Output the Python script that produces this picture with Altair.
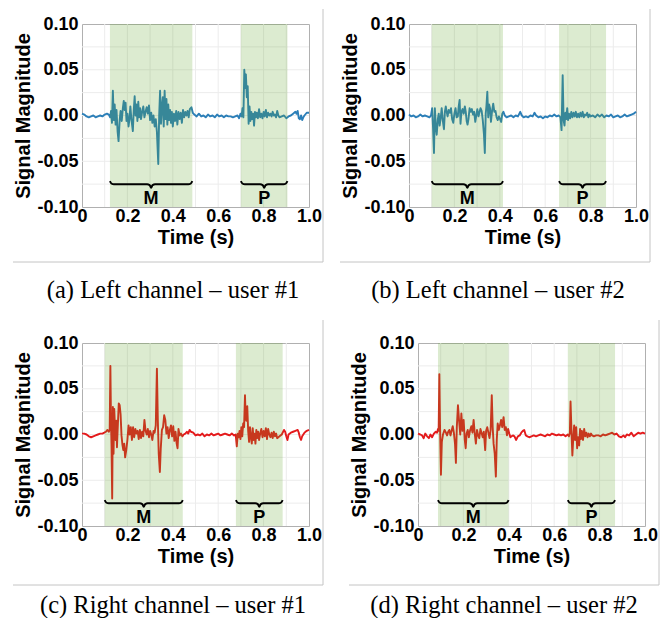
import altair as alt
import pandas as pd

# ---------------- data ----------------
t_a = [0.000,0.010,0.020,0.030,0.040,0.050,0.060,0.070,0.080,0.090,0.100,0.110,0.118,0.124,0.128,0.132,0.136,0.140,0.144,0.148,
       0.152,0.157,0.161,0.166,0.170,0.175,0.180,0.184,0.188,0.192,0.196,0.200,0.205,0.209,0.213,0.218,0.224,0.228,0.232,0.236,
       0.240,0.244,0.248,0.252,0.256,0.260,0.265,0.270,0.275,0.280,0.285,0.290,0.295,0.300,0.305,0.310,0.315,0.320,0.325,0.330,
       0.336,0.340,0.344,0.348,0.352,0.356,0.360,0.364,0.368,0.372,0.376,0.380,0.384,0.388,0.392,0.396,0.400,0.405,0.410,0.415,
       0.420,0.425,0.430,0.435,0.440,0.445,0.450,0.455,0.460,0.465,0.470,0.475,0.482,0.488,0.495,0.505,0.515,0.525,0.535,0.545,
       0.555,0.565,0.575,0.585,0.595,0.605,0.615,0.625,0.635,0.645,0.655,0.665,0.675,0.685,0.692,0.698,0.703,0.707,0.711,0.715,
       0.719,0.722,0.726,0.730,0.734,0.738,0.742,0.746,0.750,0.754,0.758,0.762,0.766,0.770,0.775,0.780,0.785,0.790,0.795,0.800,
       0.805,0.810,0.815,0.820,0.825,0.830,0.835,0.840,0.845,0.850,0.855,0.860,0.865,0.870,0.880,0.890,0.900,0.910,0.920,0.930,
       0.940,0.945,0.950,0.955,0.960,0.965,0.970,0.975,0.980,0.990,1.000]
v_a = [0.002,0.001,-0.001,-0.002,-0.001,0.000,-0.002,-0.001,0.000,-0.001,0.001,0.002,0.001,-0.002,0.005,-0.008,0.027,-0.005,0.012,-0.010,
       0.006,-0.018,-0.028,-0.005,0.005,-0.006,0.008,0.016,0.006,0.014,-0.006,0.002,-0.012,-0.004,0.010,-0.005,-0.017,0.006,0.021,0.000,
       0.012,-0.006,0.015,-0.002,0.008,-0.004,0.004,0.010,-0.002,0.004,0.009,0.002,0.011,-0.005,0.003,-0.008,0.000,-0.012,-0.004,-0.018,
       -0.053,0.000,0.027,-0.009,0.010,0.020,-0.012,0.027,-0.004,0.018,-0.010,0.012,-0.005,0.006,-0.008,0.004,-0.012,0.002,-0.006,0.005,
       -0.010,0.004,-0.004,0.003,-0.008,0.006,-0.002,0.004,0.000,0.005,-0.002,0.007,0.009,0.003,0.001,-0.001,0.002,-0.001,0.000,-0.002,
       0.001,-0.001,0.000,-0.002,0.001,-0.001,0.000,-0.002,0.000,-0.001,-0.001,-0.002,-0.001,0.000,-0.003,0.002,-0.001,0.008,-0.002,0.050,
       0.030,0.045,0.020,0.032,-0.009,0.010,-0.006,0.004,-0.004,0.002,-0.011,0.004,-0.002,0.003,-0.003,0.007,-0.002,0.002,-0.003,0.004,
       -0.001,0.006,-0.002,0.003,0.000,0.002,-0.001,0.004,0.000,0.001,-0.002,0.005,0.000,-0.002,-0.001,0.000,-0.003,-0.001,0.000,0.002,
       0.004,0.002,0.005,-0.003,-0.004,0.000,-0.005,-0.002,0.000,0.003,0.003]

t_b = [0.000,0.010,0.020,0.030,0.040,0.050,0.060,0.070,0.080,0.090,0.097,0.102,0.106,0.110,0.114,0.118,0.122,0.127,0.131,0.135,
       0.140,0.144,0.149,0.154,0.158,0.162,0.166,0.170,0.175,0.180,0.185,0.190,0.195,0.200,0.205,0.210,0.215,0.219,0.223,0.227,
       0.231,0.236,0.241,0.246,0.250,0.254,0.258,0.262,0.267,0.272,0.277,0.282,0.287,0.292,0.297,0.301,0.306,0.310,0.315,0.320,
       0.325,0.330,0.334,0.338,0.341,0.345,0.349,0.353,0.357,0.361,0.366,0.371,0.376,0.381,0.386,0.391,0.396,0.401,0.406,0.411,
       0.416,0.422,0.430,0.440,0.450,0.460,0.470,0.480,0.490,0.497,0.505,0.515,0.525,0.535,0.545,0.553,0.560,0.570,0.580,0.590,
       0.600,0.610,0.620,0.630,0.640,0.650,0.660,0.667,0.672,0.677,0.681,0.685,0.689,0.693,0.697,0.701,0.705,0.710,0.715,0.720,
       0.725,0.730,0.735,0.740,0.745,0.750,0.755,0.760,0.765,0.770,0.775,0.780,0.785,0.790,0.795,0.800,0.810,0.820,0.830,0.840,
       0.850,0.860,0.870,0.880,0.890,0.900,0.910,0.920,0.930,0.940,0.950,0.960,0.970,0.980,0.990,1.000]
v_b = [0.001,-0.001,0.000,-0.002,-0.001,0.001,-0.001,0.000,-0.001,-0.002,0.000,0.008,-0.014,-0.041,0.008,-0.012,-0.021,-0.004,0.002,-0.011,
       -0.002,0.008,-0.006,-0.015,0.004,0.010,0.004,-0.001,0.006,0.003,0.008,-0.004,-0.008,0.002,0.008,-0.002,-0.001,0.010,0.017,-0.009,
       0.004,0.007,0.002,0.010,0.004,-0.006,-0.010,-0.004,0.008,0.004,0.007,0.001,0.004,-0.007,0.001,0.007,-0.001,0.003,0.008,0.005,
       -0.005,-0.020,-0.041,0.002,0.010,0.026,-0.002,0.012,0.008,-0.007,0.005,0.013,0.004,0.005,-0.002,-0.005,-0.001,-0.004,-0.007,0.002,
       0.004,0.000,-0.002,-0.001,0.000,-0.002,0.000,-0.001,0.004,0.000,-0.002,-0.001,-0.002,0.000,-0.001,0.003,0.000,-0.002,-0.001,-0.003,
       -0.001,-0.002,0.000,-0.001,0.001,-0.001,0.000,-0.002,-0.016,0.044,-0.005,-0.011,0.003,-0.004,0.008,-0.005,0.002,-0.003,0.004,-0.002,
       0.003,-0.001,0.004,-0.002,0.002,-0.002,0.003,-0.001,0.004,-0.002,0.001,0.000,0.003,-0.002,0.001,-0.001,0.000,-0.002,0.001,-0.001,
       0.001,-0.002,0.000,-0.001,0.001,-0.002,-0.001,0.000,-0.002,-0.001,0.001,-0.001,0.000,0.001,0.002,0.004]

t_c = [0.000,0.010,0.020,0.030,0.040,0.050,0.060,0.070,0.080,0.090,0.098,0.105,0.112,0.118,0.122,0.125,0.128,0.130,0.133,0.136,
       0.139,0.142,0.145,0.148,0.151,0.154,0.157,0.162,0.166,0.170,0.174,0.178,0.182,0.186,0.190,0.195,0.200,0.205,0.210,0.215,
       0.220,0.225,0.230,0.235,0.240,0.245,0.250,0.255,0.260,0.265,0.270,0.275,0.280,0.285,0.290,0.295,0.300,0.305,0.310,0.315,
       0.320,0.325,0.330,0.334,0.338,0.343,0.347,0.352,0.357,0.362,0.367,0.372,0.377,0.382,0.387,0.392,0.397,0.402,0.407,0.412,
       0.417,0.421,0.425,0.430,0.436,0.442,0.448,0.455,0.462,0.468,0.474,0.480,0.490,0.500,0.510,0.520,0.530,0.540,0.550,0.560,
       0.570,0.580,0.590,0.600,0.610,0.620,0.630,0.640,0.650,0.660,0.670,0.677,0.682,0.686,0.690,0.694,0.698,0.702,0.706,0.710,
       0.714,0.718,0.721,0.724,0.728,0.732,0.736,0.740,0.744,0.748,0.752,0.756,0.760,0.764,0.768,0.772,0.776,0.780,0.785,0.790,
       0.795,0.800,0.805,0.810,0.815,0.820,0.825,0.830,0.835,0.840,0.845,0.850,0.855,0.860,0.870,0.880,0.890,0.895,0.900,0.905,
       0.910,0.920,0.930,0.940,0.950,0.955,0.960,0.965,0.970,0.980,0.990,1.000]
v_c = [0.001,0.001,0.000,-0.002,-0.003,-0.002,-0.001,0.000,0.001,0.001,0.002,0.003,0.005,0.003,0.005,0.075,0.010,-0.012,-0.070,0.030,
       -0.021,0.028,0.010,-0.006,0.015,-0.014,0.005,0.034,0.032,0.022,-0.001,-0.011,-0.017,-0.010,-0.025,-0.017,-0.006,0.010,0.000,0.008,
       -0.006,0.008,-0.003,0.006,0.001,0.004,-0.005,0.005,-0.004,0.003,-0.002,0.016,0.004,0.000,0.006,-0.003,0.004,0.000,-0.006,0.004,
       0.002,0.010,0.072,0.016,-0.021,-0.041,-0.015,0.005,0.008,0.021,0.016,0.001,0.008,-0.004,0.005,0.010,-0.002,0.009,-0.007,0.003,
       -0.010,-0.015,0.006,-0.001,0.001,-0.002,0.000,0.001,0.003,0.001,0.005,0.003,0.002,-0.001,0.000,-0.001,0.001,-0.002,0.000,-0.001,
       0.001,-0.001,0.000,0.001,-0.001,0.000,0.001,0.000,-0.001,0.001,-0.001,0.000,-0.013,0.001,-0.003,0.004,-0.005,0.008,-0.002,0.012,
       0.008,0.043,0.019,0.015,0.031,0.004,-0.008,0.008,-0.003,-0.010,0.007,-0.006,0.001,-0.010,0.005,-0.004,0.003,-0.006,0.001,0.006,
       -0.003,0.004,-0.002,0.007,-0.005,0.006,0.000,-0.003,0.002,-0.004,0.003,-0.002,0.001,-0.004,-0.002,0.000,0.005,0.003,-0.002,-0.006,
       0.000,0.002,0.003,0.004,0.005,0.002,-0.003,-0.006,-0.002,0.002,0.004,0.005]

t_d = [0.000,0.010,0.018,0.025,0.032,0.040,0.048,0.055,0.062,0.070,0.078,0.084,0.088,0.091,0.094,0.097,0.101,0.105,0.110,0.117,
       0.123,0.128,0.133,0.138,0.143,0.148,0.153,0.158,0.163,0.167,0.171,0.176,0.181,0.186,0.191,0.196,0.201,0.206,0.210,0.214,
       0.219,0.224,0.229,0.235,0.240,0.245,0.250,0.255,0.260,0.265,0.270,0.275,0.280,0.285,0.290,0.296,0.300,0.305,0.310,0.315,
       0.320,0.325,0.329,0.333,0.338,0.343,0.347,0.351,0.356,0.361,0.366,0.371,0.377,0.382,0.387,0.392,0.397,0.402,0.407,0.412,
       0.418,0.425,0.432,0.440,0.448,0.455,0.462,0.468,0.475,0.482,0.490,0.500,0.510,0.520,0.530,0.540,0.550,0.560,0.570,0.580,
       0.590,0.600,0.610,0.620,0.630,0.640,0.650,0.660,0.665,0.669,0.672,0.676,0.680,0.684,0.688,0.692,0.697,0.701,0.705,0.710,
       0.714,0.718,0.722,0.727,0.732,0.737,0.742,0.747,0.752,0.757,0.762,0.767,0.775,0.785,0.795,0.805,0.815,0.825,0.835,0.845,
       0.855,0.865,0.875,0.885,0.895,0.905,0.912,0.920,0.930,0.940,0.950,0.960,0.970,0.980,0.990,1.000]
v_d = [0.001,0.000,-0.001,-0.004,0.001,-0.002,-0.004,0.000,-0.003,0.001,0.003,0.002,0.006,0.004,0.066,0.010,-0.044,-0.008,0.000,0.005,
       0.002,-0.001,0.003,0.005,-0.001,0.004,0.009,0.002,-0.010,-0.031,0.008,0.032,0.015,0.000,0.023,0.004,0.016,-0.006,-0.015,0.001,
       0.005,-0.003,0.004,0.009,0.002,0.016,0.001,-0.010,0.005,-0.001,-0.004,0.006,0.002,-0.003,0.003,-0.017,0.004,0.008,0.002,-0.004,
       0.005,0.043,0.008,-0.010,-0.021,-0.046,-0.006,0.012,0.005,0.010,0.016,0.008,0.019,0.005,0.008,-0.001,0.006,0.001,-0.003,-0.002,
       -0.001,-0.002,-0.006,-0.002,-0.001,0.002,0.004,0.005,-0.001,-0.002,-0.003,-0.002,-0.001,-0.002,-0.001,0.000,-0.001,-0.002,0.000,-0.001,
       0.001,0.000,-0.001,0.000,-0.001,0.000,-0.002,0.000,-0.002,0.002,0.036,0.004,-0.023,-0.004,0.010,-0.006,0.008,-0.015,-0.003,-0.012,
       0.006,-0.005,0.004,-0.006,0.006,-0.002,0.002,-0.003,0.001,-0.002,0.001,-0.001,-0.002,-0.001,-0.001,-0.002,0.000,-0.001,0.000,0.001,
       0.002,0.000,0.001,-0.002,-0.003,-0.001,-0.003,0.000,-0.001,0.002,-0.002,0.000,0.002,0.001,0.002,0.001]

# shaded segments (start, end) and their labels
band_labels = ["M", "P"]
bands_a = [(0.123, 0.486), (0.700, 0.905)]
bands_b = [(0.100, 0.414), (0.661, 0.868)]
bands_c = [(0.100, 0.444), (0.678, 0.884)]
bands_d = [(0.088, 0.399), (0.660, 0.868)]

captions = ["(a) Left channel \u2013 user #1", "(b) Left channel \u2013 user #2",
            "(c) Right channel \u2013 user #1", "(d) Right channel \u2013 user #2"]

x_ticks = [0, 0.2, 0.4, 0.6, 0.8, 1.0]
y_ticks = [-0.1, -0.05, 0.0, 0.05, 0.1]
x_grid = [0.1, 0.2, 0.3, 0.4, 0.5, 0.6, 0.7, 0.8, 0.9]
y_grid = [-0.075, -0.05, -0.025, 0.0, 0.025, 0.05, 0.075]

# ---------------- styling ----------------
W, H = 227, 183
BLUE = "#2c7fb8"
RED = "#e41a1c"
BAND = "#5fa429"
GRID = "#ececec"
BORDER = "#c4c4c4"
SANS = "Liberation Sans"
SERIF = "Liberation Serif"

BRACE_Y = -0.0752
LABEL_Y = -0.0912

xs = alt.Scale(domain=[0, 1], nice=False, zero=False)
ys = alt.Scale(domain=[-0.1, 0.1], nice=False, zero=False)

xaxis = alt.Axis(values=x_ticks, title="Time (s)",
                 labelExpr="datum.value == 0 ? '0' : format(datum.value, '.1f')",
                 grid=False, ticks=False, domain=False, labelFlush=False,
                 labelOverlap=False, labelPadding=0, titlePadding=2)
yaxis = alt.Axis(values=y_ticks, title="Signal Magnitude",
                 labelExpr="(datum.value < 0 ? '-' : '') + format(abs(datum.value), '.2f')",
                 grid=False, ticks=False, domain=False, labelOverlap=False,
                 labelPadding=4, titlePadding=3)


def brace_points(bands):
    rows = []
    px = 0.2 / H  # one pixel in data units (y)
    dx = 1.0 / W
    for i, (s, e) in enumerate(bands):
        m = (s + e) / 2
        pts = [(s, BRACE_Y + 3.2 * px), (s + 1.5 * dx, BRACE_Y + 0.8 * px), (s + 4 * dx, BRACE_Y),
               (m - 4 * dx, BRACE_Y), (m - 1.5 * dx, BRACE_Y - 0.8 * px), (m, BRACE_Y - 3.5 * px),
               (m + 1.5 * dx, BRACE_Y - 0.8 * px), (m + 4 * dx, BRACE_Y),
               (e - 4 * dx, BRACE_Y), (e - 1.5 * dx, BRACE_Y + 0.8 * px), (e, BRACE_Y + 3.2 * px)]
        for k, (x, y) in enumerate(pts):
            rows.append({"id": i, "o": k, "x": x, "y": y})
    return pd.DataFrame(rows)


def panel(t, v, color, bands, caption, cap_x, top, bottom, cap_dy):
    sig = pd.DataFrame({"t": t, "v": v})
    bdf = pd.DataFrame({"s": [b[0] for b in bands], "e": [b[1] for b in bands], "lab": band_labels})
    bdf["m"] = (bdf["s"] + bdf["e"]) / 2
    bdf["ly"] = LABEL_Y

    gx = alt.Chart(pd.DataFrame({"g": x_grid})).mark_rule(color=GRID, strokeWidth=1).encode(
        x=alt.X("g:Q", scale=xs, axis=xaxis))
    gy = alt.Chart(pd.DataFrame({"g": y_grid})).mark_rule(color=GRID, strokeWidth=1).encode(
        y=alt.Y("g:Q", scale=ys, axis=yaxis))
    line = alt.Chart(sig).mark_line(color=color, strokeWidth=1.9, strokeJoin="round").encode(
        x=alt.X("t:Q", scale=xs, axis=xaxis), y=alt.Y("v:Q", scale=ys, axis=yaxis), order="t:Q")
    band = alt.Chart(bdf).mark_rect(color=BAND, opacity=0.22).encode(
        x=alt.X("s:Q", scale=xs, axis=xaxis), x2="e:Q", y=alt.value(0), y2=alt.value(H))
    brace = alt.Chart(brace_points(bands)).mark_line(color="black", strokeWidth=2, interpolate="monotone").encode(
        x=alt.X("x:Q", scale=xs, axis=xaxis), y=alt.Y("y:Q", scale=ys, axis=yaxis),
        detail="id:N", order="o:Q")
    lab = alt.Chart(bdf).mark_text(font=SANS, fontSize=18, fontWeight="bold", color="black",
                                   baseline="middle").encode(
        x=alt.X("m:Q", scale=xs, axis=xaxis), y=alt.Y("ly:Q", scale=ys, axis=yaxis), text="lab:N")

    one = pd.DataFrame({"k": [0]})
    rb = alt.Chart(one).mark_rule(color=BORDER, strokeWidth=1).encode(
        x=alt.value(241), y=alt.value(top), y2=alt.value(bottom))
    bb = alt.Chart(one).mark_rule(color=BORDER, strokeWidth=1).encode(
        x=alt.value(-69), x2=alt.value(241), y=alt.value(bottom))
    cap = alt.Chart(pd.DataFrame({"c": [caption]})).mark_text(
        font=SERIF, fontSize=24.5, color="black", baseline="middle", align="center").encode(
        x=alt.value(cap_x), y=alt.value(bottom + cap_dy), text="c:N")

    return alt.layer(gx, gy, line, band, brace, lab, rb, bb, cap).properties(width=W, height=H)


pa = panel(t_a, v_a, BLUE, bands_a, captions[0], 91, -15, 238, 29)
pb = panel(t_b, v_b, BLUE, bands_b, captions[1], 89, -15, 238, 29)
pc = panel(t_c, v_c, RED, bands_c, captions[2], 91, -23, 242, 21)
pdd = panel(t_d, v_d, RED, bands_d, captions[3], 86, -23, 242, 21)

row1 = alt.hconcat(pa, pb, spacing=15)
row2 = alt.hconcat(pc, pdd, spacing=24)
chart = alt.vconcat(row1, row2, spacing=16).properties(
    padding={"left": 4, "top": 0, "right": 0, "bottom": 0}
).configure_view(stroke="#b0b0b0", strokeWidth=1).configure_axis(
    labelFont=SANS, labelFontSize=18, labelFontWeight="bold", labelColor="black",
    titleFont=SANS, titleFontSize=20, titleFontWeight="bold", titleColor="black")

chart.save("out.html", embed_options={"renderer": "svg", "actions": False})
